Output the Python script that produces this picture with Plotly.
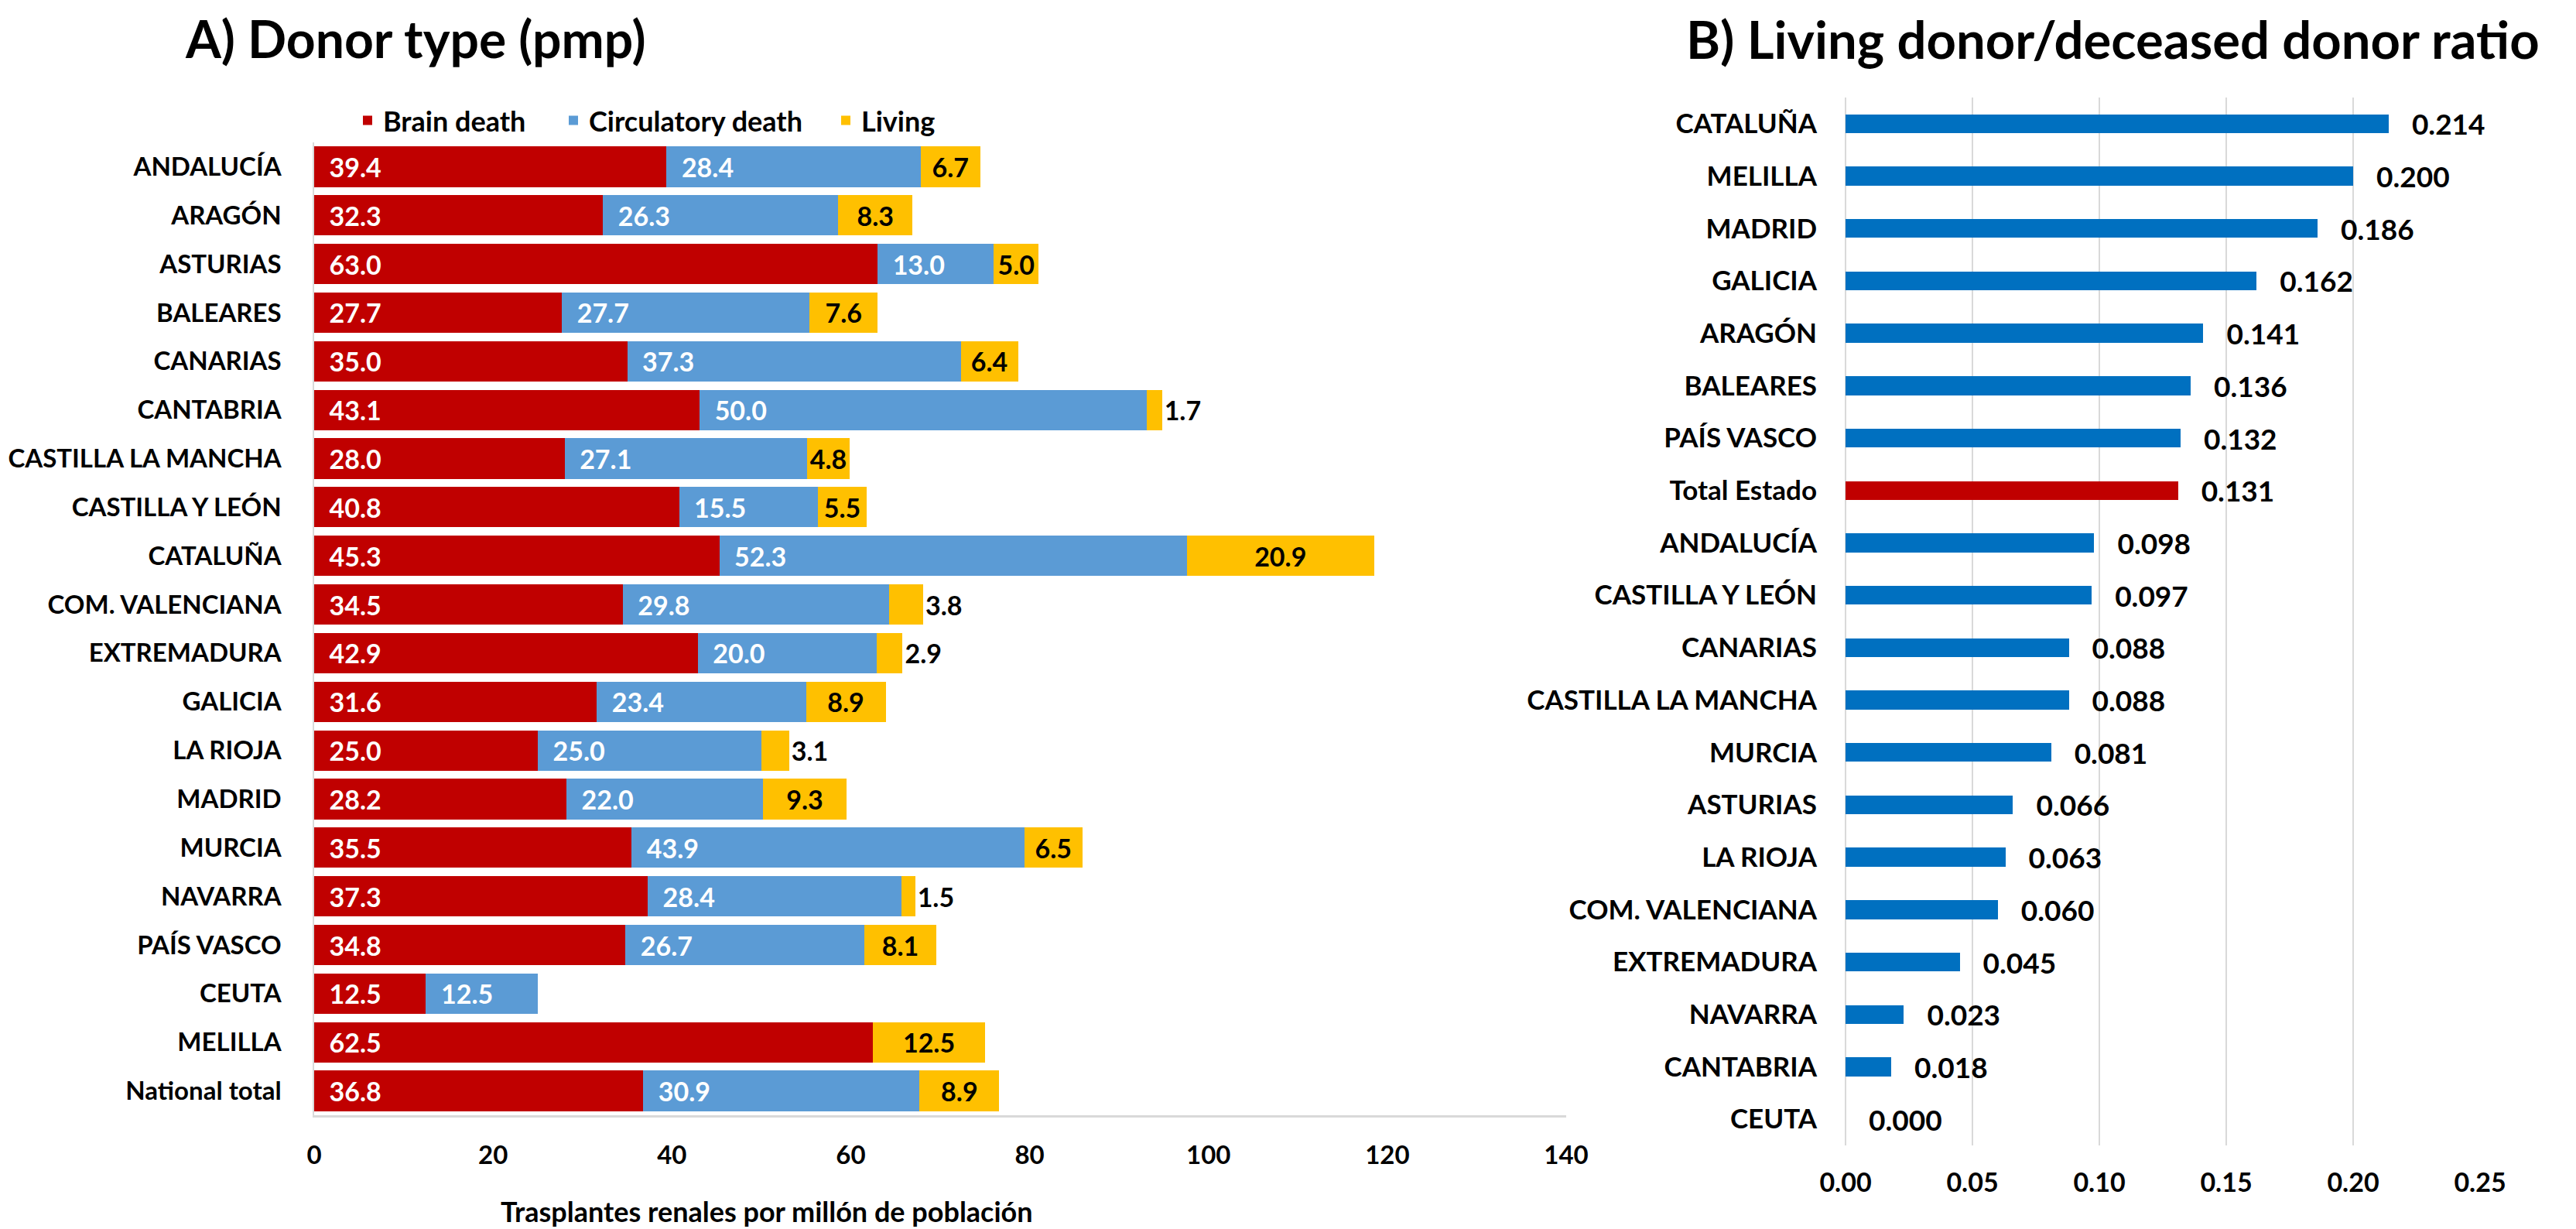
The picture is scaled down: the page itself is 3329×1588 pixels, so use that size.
import plotly.graph_objects as go

# ---------------- Data: Panel A (donor type, pmp) ----------------
regions_a = ["ANDALUCÍA", "ARAGÓN", "ASTURIAS", "BALEARES", "CANARIAS", "CANTABRIA",
             "CASTILLA LA MANCHA", "CASTILLA Y LEÓN", "CATALUÑA", "COM. VALENCIANA",
             "EXTREMADURA", "GALICIA", "LA RIOJA", "MADRID", "MURCIA", "NAVARRA",
             "PAÍS VASCO", "CEUTA", "MELILLA", "National total"]
brain_death = [39.4, 32.3, 63.0, 27.7, 35.0, 43.1, 28.0, 40.8, 45.3, 34.5,
               42.9, 31.6, 25.0, 28.2, 35.5, 37.3, 34.8, 12.5, 62.5, 36.8]
circulatory_death = [28.4, 26.3, 13.0, 27.7, 37.3, 50.0, 27.1, 15.5, 52.3, 29.8,
                     20.0, 23.4, 25.0, 22.0, 43.9, 28.4, 26.7, 12.5, None, 30.9]
living = [6.7, 8.3, 5.0, 7.6, 6.4, 1.7, 4.8, 5.5, 20.9, 3.8,
          2.9, 8.9, 3.1, 9.3, 6.5, 1.5, 8.1, None, 12.5, 8.9]

# ---------------- Data: Panel B (living/deceased ratio) ----------------
regions_b = ["CATALUÑA", "MELILLA", "MADRID", "GALICIA", "ARAGÓN", "BALEARES",
             "PAÍS VASCO", "Total Estado", "ANDALUCÍA", "CASTILLA Y LEÓN", "CANARIAS",
             "CASTILLA LA MANCHA", "MURCIA", "ASTURIAS", "LA RIOJA", "COM. VALENCIANA",
             "EXTREMADURA", "NAVARRA", "CANTABRIA", "CEUTA"]
ratio = [0.214, 0.200, 0.186, 0.162, 0.141, 0.136, 0.132, 0.131, 0.098, 0.097,
         0.088, 0.088, 0.081, 0.066, 0.063, 0.060, 0.045, 0.023, 0.018, 0.000]

RED = "#C00000"
BLUE_A = "#5B9BD5"
YELLOW = "#FFC000"
BLUE_B = "#0070C0"
GRID = "#D9D9D9"
FONT = "Lato"

W, H = 3329, 1588

fig = go.Figure()

# Panel A stacked bars
fig.add_trace(go.Bar(
    y=regions_a, x=brain_death, orientation="h", name="Brain death", legend="legend",
    marker=dict(color=RED, line=dict(width=0)), width=0.83,
    texttemplate="\u00a0\u00a0%{x:.1f}", textposition="inside", insidetextanchor="start",
    textfont=dict(color="white", size=34, family=FONT, weight="bold"),
    xaxis="x", yaxis="y", hoverinfo="x+y"))
fig.add_trace(go.Bar(
    y=regions_a, x=circulatory_death, orientation="h", name="Circulatory death", legend="legend2",
    marker=dict(color=BLUE_A, line=dict(width=0)), width=0.83,
    texttemplate="\u00a0\u00a0%{x:.1f}", textposition="inside", insidetextanchor="start",
    textfont=dict(color="white", size=34, family=FONT, weight="bold"),
    xaxis="x", yaxis="y", hoverinfo="x+y"))
living_pos = ["outside" if (v is not None and v < 4) else "inside" for v in living]
fig.add_trace(go.Bar(
    y=regions_a, x=living, orientation="h", name="Living", legend="legend3",
    marker=dict(color=YELLOW, line=dict(width=0)), width=0.83,
    texttemplate="%{x:.1f}", textposition=living_pos, insidetextanchor="middle",
    textfont=dict(color="black", size=34, family=FONT, weight="bold"),
    cliponaxis=False,
    xaxis="x", yaxis="y", hoverinfo="x+y"))

# Panel B bars
colors_b = [RED if r == "Total Estado" else BLUE_B for r in regions_b]
fig.add_trace(go.Bar(
    y=regions_b, x=ratio, orientation="h", name="ratio", showlegend=False,
    marker=dict(color=colors_b, line=dict(width=0)), width=0.36,
    texttemplate="\u00a0\u00a0\u00a0%{x:.3f}", textposition="outside",
    textfont=dict(color="black", size=37, family=FONT, weight="bold"),
    cliponaxis=False,
    xaxis="x2", yaxis="y2", hoverinfo="x+y"))

legend_common = dict(orientation="h", y=0.907, xanchor="left", yanchor="middle",
                     font=dict(size=36, family=FONT, color="black", weight="bold"),
                     itemwidth=30, bgcolor="rgba(0,0,0,0)")

fig.update_layout(
    width=W, height=H,
    margin=dict(l=0, r=0, t=0, b=0),
    paper_bgcolor="white", plot_bgcolor="white",
    barmode="stack",
    font=dict(family=FONT, color="black", size=34, weight="bold"),
    uniformtext=dict(mode="show", minsize=30),
    showlegend=True,
    legend=dict(x=447 / W, **legend_common),
    legend2=dict(x=713 / W, **legend_common),
    legend3=dict(x=1065 / W, **legend_common),
    xaxis=dict(domain=[398 / W, 2016 / W], range=[0, 140], dtick=20,
               showgrid=False, zeroline=False, automargin=False,
               showline=True, linecolor=GRID, linewidth=3,
               ticks="", ticklabelstandoff=20,
               tickfont=dict(size=33, family=FONT, color="black", weight="bold"),
               anchor="y"),
    yaxis=dict(domain=[(H - 1433) / H, (H - 176) / H], autorange="reversed",
               showgrid=False, zeroline=False, automargin=False,
               showline=True, linecolor=GRID, linewidth=1.5,
               ticks="", ticklabelstandoff=34,
               tickfont=dict(size=33, family=FONT, color="black", weight="bold"),
               anchor="x"),
    xaxis2=dict(domain=[2377 / W, 3197 / W], range=[0, 0.25], dtick=0.05, tickformat=".2f",
                showgrid=True, gridcolor=GRID, gridwidth=2, automargin=False,
                zeroline=True, zerolinecolor=GRID, zerolinewidth=2,
                showline=False, ticks="", ticklabelstandoff=25,
                tickfont=dict(size=34, family=FONT, color="black", weight="bold"),
                anchor="y2"),
    yaxis2=dict(domain=[(H - 1472) / H, (H - 118) / H], autorange="reversed",
                showgrid=False, zeroline=False, showline=False, automargin=False,
                ticks="", ticklabelstandoff=36,
                tickfont=dict(size=35, family=FONT, color="black", weight="bold"),
                anchor="x2"),
    annotations=[
        dict(text="A) Donor type (pmp)", x=529 / W, y=1.0, xref="paper", yref="paper",
             xanchor="center", yanchor="top", showarrow=False,
             font=dict(size=66, family=FONT, color="black", weight="bold")),
        dict(text="B) Living donor/deceased donor ratio", x=2722 / W, y=1.0,
             xref="paper", yref="paper", xanchor="center", yanchor="top", showarrow=False,
             font=dict(size=67, family=FONT, color="black", weight="bold")),
        dict(text="Trasplantes renales por millón de población", x=983 / W, y=(H - 1557) / H,
             xref="paper", yref="paper", xanchor="center", yanchor="middle", showarrow=False,
             font=dict(size=36, family=FONT, color="black", weight="bold")),
    ],
)

fig.write_html("out.html")
